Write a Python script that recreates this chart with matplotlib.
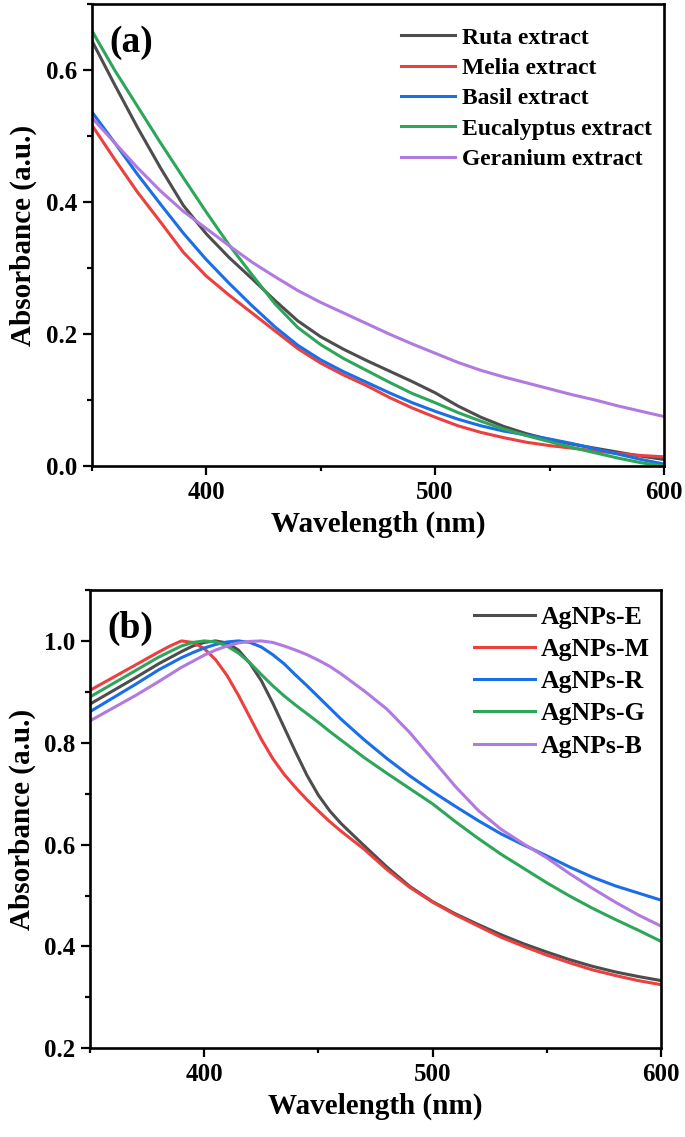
import matplotlib
matplotlib.use("Agg")
import matplotlib.pyplot as plt
from matplotlib.ticker import MultipleLocator

plt.rcParams['font.family'] = ['Liberation Serif', 'DejaVu Serif']
plt.rcParams['font.weight'] = 'bold'
plt.rcParams['axes.labelweight'] = 'bold'

# (a) plant extracts
wl_a = [350, 360, 370, 380, 390, 400, 410, 420, 430, 440, 450, 460, 470,
        480, 490, 500, 510, 520, 530, 540, 550, 560, 570, 580, 590, 600]
ruta = [0.645, 0.578, 0.513, 0.452, 0.395, 0.352, 0.316, 0.284, 0.251, 0.220, 0.196, 0.177, 0.160,
        0.144, 0.128, 0.111, 0.091, 0.074, 0.060, 0.049, 0.040, 0.033, 0.027, 0.021, 0.015, 0.010]
melia = [0.517, 0.465, 0.415, 0.370, 0.324, 0.288, 0.259, 0.232, 0.205, 0.178, 0.156, 0.138, 0.122,
         0.104, 0.088, 0.074, 0.061, 0.051, 0.043, 0.036, 0.031, 0.027, 0.023, 0.019, 0.016, 0.014]
basil = [0.537, 0.490, 0.442, 0.397, 0.353, 0.313, 0.277, 0.243, 0.211, 0.183, 0.161, 0.143, 0.127,
         0.111, 0.096, 0.083, 0.071, 0.061, 0.053, 0.047, 0.041, 0.034, 0.026, 0.018, 0.010, 0.003]
eucalyptus = [0.660, 0.600, 0.545, 0.490, 0.437, 0.385, 0.335, 0.290, 0.246, 0.210, 0.184, 0.163, 0.145,
              0.127, 0.110, 0.096, 0.081, 0.068, 0.056, 0.046, 0.037, 0.028, 0.020, 0.012, 0.005, 0.000]
geranium = [0.528, 0.490, 0.452, 0.417, 0.386, 0.360, 0.334, 0.309, 0.287, 0.266, 0.248, 0.232, 0.216,
            0.200, 0.185, 0.171, 0.157, 0.145, 0.135, 0.126, 0.117, 0.108, 0.100, 0.091, 0.083, 0.075]

# (b) silver nanoparticles
wl_b = [350, 360, 370, 380, 385, 390, 395, 400, 405, 410, 415, 420, 425, 430, 435, 440, 445, 450,
        455, 460, 470, 480, 490, 500, 510, 520, 530, 540, 550, 560, 570, 580, 590, 600]
ag_e = [0.876, 0.902, 0.928, 0.955, 0.967, 0.979, 0.990, 0.997, 1.000, 0.996, 0.982, 0.956, 0.922,
        0.878, 0.830, 0.782, 0.736, 0.697, 0.666, 0.641, 0.598, 0.556, 0.518, 0.488, 0.464, 0.443,
        0.423, 0.405, 0.389, 0.374, 0.361, 0.350, 0.341, 0.333]
ag_m = [0.903, 0.928, 0.953, 0.978, 0.990, 1.000, 0.997, 0.985, 0.963, 0.932, 0.893, 0.850, 0.807,
        0.769, 0.738, 0.712, 0.688, 0.666, 0.645, 0.626, 0.591, 0.551, 0.516, 0.487, 0.462, 0.440,
        0.418, 0.400, 0.383, 0.368, 0.354, 0.343, 0.333, 0.325]
ag_r = [0.861, 0.888, 0.915, 0.943, 0.955, 0.967, 0.977, 0.986, 0.993, 0.998, 1.000, 0.997, 0.988,
        0.973, 0.955, 0.933, 0.912, 0.890, 0.868, 0.846, 0.806, 0.769, 0.735, 0.704, 0.675, 0.647,
        0.621, 0.599, 0.578, 0.556, 0.536, 0.519, 0.505, 0.491]
ag_g = [0.890, 0.916, 0.942, 0.968, 0.979, 0.990, 0.997, 1.000, 0.998, 0.990, 0.976, 0.957, 0.934,
        0.912, 0.892, 0.874, 0.857, 0.840, 0.822, 0.805, 0.771, 0.740, 0.710, 0.680, 0.645, 0.612,
        0.581, 0.553, 0.525, 0.499, 0.475, 0.453, 0.432, 0.410]
ag_b = [0.843, 0.868, 0.893, 0.920, 0.934, 0.948, 0.960, 0.972, 0.982, 0.990, 0.996, 0.999, 1.000,
        0.997, 0.990, 0.982, 0.973, 0.962, 0.950, 0.935, 0.902, 0.866, 0.820, 0.767, 0.714, 0.667,
        0.630, 0.601, 0.574, 0.543, 0.514, 0.487, 0.462, 0.440]

c_black = '#4d4d4d'
c_red = '#ee3f3f'
c_blue = '#1a6ee6'
c_green = '#2ea65a'
c_purple = '#b07ae0'

lw = 2.2

fig = plt.figure(figsize=(6.85, 11.37), dpi=100)
ax_a = fig.add_axes([0.1339, 0.5901, 0.8355, 0.4063])
ax_b = fig.add_axes([0.1314, 0.0780, 0.8336, 0.4031])

ax_a.plot(wl_a, ruta, color=c_black, lw=lw, label='Ruta extract')
ax_a.plot(wl_a, melia, color=c_red, lw=lw, label='Melia extract')
ax_a.plot(wl_a, basil, color=c_blue, lw=lw, label='Basil extract')
ax_a.plot(wl_a, eucalyptus, color=c_green, lw=lw, label='Eucalyptus extract')
ax_a.plot(wl_a, geranium, color=c_purple, lw=lw, label='Geranium extract')
ax_a.set_ylim(0, 0.70)

ax_b.plot(wl_b, ag_e, color=c_black, lw=lw, label='AgNPs-E')
ax_b.plot(wl_b, ag_m, color=c_red, lw=lw, label='AgNPs-M')
ax_b.plot(wl_b, ag_r, color=c_blue, lw=lw, label='AgNPs-R')
ax_b.plot(wl_b, ag_g, color=c_green, lw=lw, label='AgNPs-G')
ax_b.plot(wl_b, ag_b, color=c_purple, lw=lw, label='AgNPs-B')
ax_b.set_ylim(0.2, 1.1)

for ax, tag in [(ax_a, '(a)'), (ax_b, '(b)')]:
    ax.set_xlim(350, 600)
    ax.xaxis.set_major_locator(MultipleLocator(100))
    ax.xaxis.set_minor_locator(MultipleLocator(50))
    ax.yaxis.set_major_locator(MultipleLocator(0.2))
    ax.yaxis.set_minor_locator(MultipleLocator(0.1))
    ax.tick_params(which='major', direction='out', length=6.5, width=1.6, labelsize=18, pad=4)
    ax.tick_params(which='minor', direction='out', length=3.3, width=1.6)
    for s in ax.spines.values():
        s.set_linewidth(1.9)
    ax.set_xlabel('Wavelength (nm)', fontsize=21, labelpad=5)
    ax.set_ylabel('Absorbance (a.u.)', fontsize=21, labelpad=6)
    ax.text(0.03, 0.955, tag, transform=ax.transAxes, fontsize=27, va='top', ha='left')

ax_a.legend(loc='upper right', bbox_to_anchor=(1.0, 0.976), frameon=False, fontsize=17,
            handlelength=2.3, handletextpad=0.3, labelspacing=0.37, borderaxespad=0.11)
ax_b.legend(loc='upper right', bbox_to_anchor=(1.0, 0.99), frameon=False, fontsize=18.5,
            handlelength=2.37, handletextpad=0.23, labelspacing=0.36, borderaxespad=0.03)

fig.savefig('out.png', dpi=100)
